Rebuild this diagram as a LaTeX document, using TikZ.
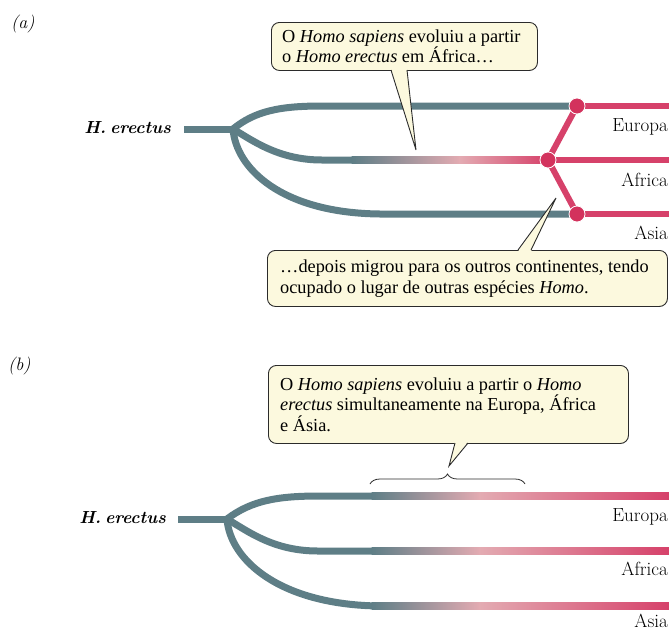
\documentclass[tikz,border=0pt]{standalone}
\usepackage{fontspec}
\newfontfamily\tnr{Liberation Serif}
\usetikzlibrary{decorations.pathreplacing}
\definecolor{gtl}{HTML}{5E7E86}
\definecolor{rd}{HTML}{D6416A}
\definecolor{rdc}{HTML}{D3325D}
\definecolor{lpk}{HTML}{E3ABB2}
\definecolor{cream}{HTML}{FCF9DE}
\definecolor{edge}{HTML}{2B2B2B}
\begin{document}
\begin{tikzpicture}[x=1pt,y=-1pt,
  gline/.style={draw=gtl,line width=7pt},
  rline/.style={draw=rd,line width=6pt},
  jdot/.style={circle,fill=rdc,draw=white,line width=0.8pt,minimum size=16pt,inner sep=0pt},
  cbox/.style={draw=edge,line width=0.9pt,fill=cream,rounded corners=8pt,anchor=north west,inner sep=0pt},
  ctext/.style={align=left,inner sep=0pt,anchor=west,font=\tnr\fontsize{18.3}{20.5}\selectfont},
  tailfill/.style={fill=cream},
  tailline/.style={draw=edge,line width=0.9pt},
  lbl/.style={font=\addfontfeature{LetterSpace=3}\fontsize{19}{22}\selectfont,inner sep=0pt,anchor=base east},
  sp/.style={font=\bfseries\itshape\fontsize{17.5}{20}\selectfont,inner sep=0pt,anchor=base east},
  part/.style={font=\itshape\fontsize{18}{20}\selectfont,inner sep=0pt,anchor=base west}
]
\useasboundingbox (0,0) rectangle (669,630);

%================ (a) =================
\node[part] (pa) at (11,28) {(a)};
\node[sp] (hea) at (171,133) {H.\hspace{0.22em}erectus};
\coordinate (stA) at (184,129);
\coordinate (bA) at (233,129);
\coordinate (tA) at (322,106);
\coordinate (mA) at (322,160);
\coordinate (uA) at (380,214);
\node[jdot] (e1) at (577,106) {};
\node[jdot] (a1) at (548,160) {};
\node[jdot] (s1) at (577,214) {};
\coordinate (eEndA) at (669,106);
\coordinate (aEndA) at (669,160);
\coordinate (sEndA) at (669,214);

\draw[gline] (stA) -- (bA);
\draw[gline] (bA) .. controls (255,111) and (280,106) .. (tA) -- (e1.center);
\draw[gline] (bA) .. controls (252,140) and (278,160) .. (mA) -- (352,160);
\draw[gline] (bA) .. controls (236,168) and (281,213) .. (uA) -- (s1.center);
\shade[left color=gtl,right color=lpk] (351.5,156.5) rectangle (460,163.5);
\shade[left color=lpk,right color=rd] (459.5,156.5) rectangle (548,163.5);

\draw[rline] (e1.center) -- (a1.center) -- (s1.center);
\draw[rline] (e1.center) -- (eEndA);
\draw[rline] (a1.center) -- (aEndA);
\draw[rline] (s1.center) -- (sEndA);
\node[jdot] at (e1) {};
\node[jdot] at (a1) {};
\node[jdot] at (s1) {};

\node[lbl] (euA) at (668,131) {Europa};
\node[lbl] (afA) at (668,186) {Africa};
\node[lbl] (asA) at (668,239) {Asia};

% callout 1
\node[cbox,minimum width=266pt,minimum height=48pt] (c1) at (271,22) {};
\node[ctext] (c1x) at ([xshift=11pt]c1.west)
  {O \textit{Homo sapiens} evoluiu a partir\\o \textit{Homo erectus} em África…};
\coordinate (c1a) at (391,70);
\coordinate (c1b) at (407,70);
\coordinate (c1t) at (416,150);
\fill[tailfill] (391,68.6) -- (c1t) -- (407,68.6) -- cycle;
\draw[tailline] (c1a) -- (c1t) -- (c1b);

% callout 2
\node[cbox,minimum width=400pt,minimum height=56pt] (c2) at (267,250) {};
\node[ctext] (c2x) at ([xshift=13pt]c2.west)
  {…depois migrou para os outros continentes, tendo\\ocupado o lugar de outras espécies \textit{Homo}.};
\coordinate (c2a) at (518,250);
\coordinate (c2b) at (531,250);
\coordinate (c2t) at (556,198);
\fill[tailfill] (518,251.4) -- (c2t) -- (531,251.4) -- cycle;
\draw[tailline] (c2a) -- (c2t) -- (c2b);

%================ (b) =================
\node[part] (pb) at (8,370) {(b)};
\node[sp] (heb) at (166,523) {H.\hspace{0.22em}erectus};
\coordinate (stB) at (178,519);
\coordinate (bB) at (227,519);
\coordinate (tB) at (320,496);
\coordinate (mB) at (318,551);
\coordinate (uB) at (380,606);
\coordinate (eEndB) at (669,496);
\coordinate (aEndB) at (669,551);
\coordinate (sEndB) at (669,606);

\draw[gline] (stB) -- (bB);
\draw[gline] (bB) .. controls (252,500) and (279,496) .. (tB) -- (372,496);
\draw[gline] (bB) .. controls (249,532) and (274,551) .. (mB) -- (372,551);
\draw[gline] (bB) .. controls (230,560) and (280,605) .. (uB);
\foreach \yy in {496,551,606}{
  \shade[left color=gtl,right color=lpk] (371.5,\yy-3.5) rectangle (480,\yy+3.5);
  \shade[left color=lpk,right color=rd] (479.5,\yy-3.5) rectangle (669,\yy+3.5);
}

\node[lbl] (euB) at (668,521) {Europa};
\node[lbl] (afB) at (668,575) {Africa};
\node[lbl] (asB) at (668,627) {Asia};

\draw[decorate,decoration={brace,amplitude=10pt},draw=edge,line width=0.8pt] (370,484) -- (525,484);

\node[cbox,minimum width=360pt,minimum height=78pt] (c3) at (268,365) {};
\node[ctext] (c3x) at ([xshift=12pt]c3.west)
  {O \textit{Homo sapiens} evoluiu a partir o \textit{Homo}\\\textit{erectus} simultaneamente na Europa, África\\e Ásia.};
\coordinate (c3a) at (455,443);
\coordinate (c3b) at (468,443);
\coordinate (c3t) at (449,466);
\fill[tailfill] (455,441.6) -- (c3t) -- (468,441.6) -- cycle;
\draw[tailline] (c3a) -- (c3t) -- (c3b);
\end{tikzpicture}
\end{document}
